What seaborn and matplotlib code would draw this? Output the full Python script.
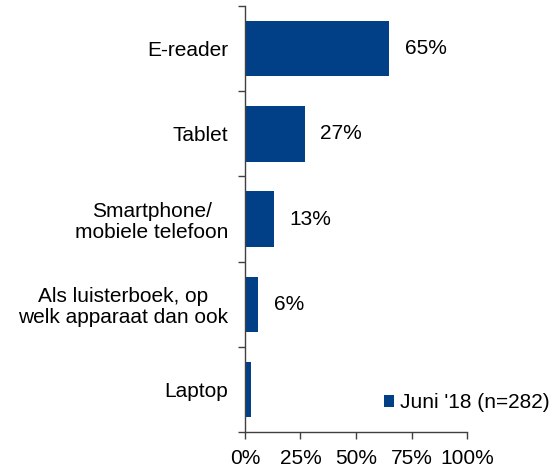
import matplotlib
matplotlib.use("Agg")
import matplotlib.pyplot as plt
import seaborn as sns
import pandas as pd
import numpy as np

categories = ["E-reader", "Tablet", "Smartphone/\nmobiele telefoon",
              "Als luisterboek, op\nwelk apparaat dan ook", "Laptop"]
values = [65, 27, 13, 6, 2.7]
value_labels = ["65%", "27%", "13%", "6%", ""]
series_name = "Juni '18 (n=282)"
xticks = [0, 25, 50, 75, 100]
xticklabels = ["0%", "25%", "50%", "75%", "100%"]

sns.set_style("white")
plt.rcParams['font.family'] = ['Liberation Sans', 'DejaVu Sans']
plt.rcParams['text.color'] = 'black'
plt.rcParams['xtick.color'] = 'black'
plt.rcParams['ytick.color'] = 'black'
FS = 15

df = pd.DataFrame({"cat": categories, "val": values, "series": series_name})

fig = plt.figure(figsize=(5.53, 4.69), dpi=100)
ax = fig.add_axes([0.443, 0.079, 0.4015, 0.908])
color = "#013F87"
sns.barplot(data=df, y="cat", x="val", hue="series", palette=[color],
            saturation=1, orient="h", width=0.65, ax=ax, legend=True, linewidth=0)

ax.set_xlim(0, 100)
ax.set_ylim(len(categories) - 0.5, -0.5)
ax.set_xticks(xticks)
ax.set_xticklabels(xticklabels, fontsize=FS)
ax.set_xlabel("")
ax.set_ylabel("")
ax.set_yticks(range(len(categories)))
ax.set_yticklabels(categories, fontsize=FS, ha="right", multialignment="center",
                   linespacing=1.15)
ax.tick_params(axis="y", which="major", length=0, pad=12)
# boundary ticks on y axis
ax.set_yticks(np.arange(-0.5, len(categories), 1.0), minor=True)
ax.tick_params(axis="y", which="minor", length=5, direction="out", color="#404040", width=1, left=True)
ax.tick_params(axis="x", length=5, direction="out", color="#404040", width=1, bottom=True, pad=7)

for s in ["top", "right"]:
    ax.spines[s].set_visible(False)
for s in ["left", "bottom"]:
    ax.spines[s].set_color("#404040")
    ax.spines[s].set_linewidth(1)

for i, (v, t) in enumerate(zip(values, value_labels)):
    if t:
        ax.text(v + 7, i, t, va="center", ha="left", fontsize=FS)

leg = ax.legend(loc="center left", bbox_to_anchor=(0.625, 0.068), frameon=False,
                fontsize=FS, handlelength=0.5, handleheight=0.5, handletextpad=0.3,
                borderaxespad=0, borderpad=0)
for t in leg.get_texts():
    t.set_color("black")

fig.savefig("out.png", dpi=100)
